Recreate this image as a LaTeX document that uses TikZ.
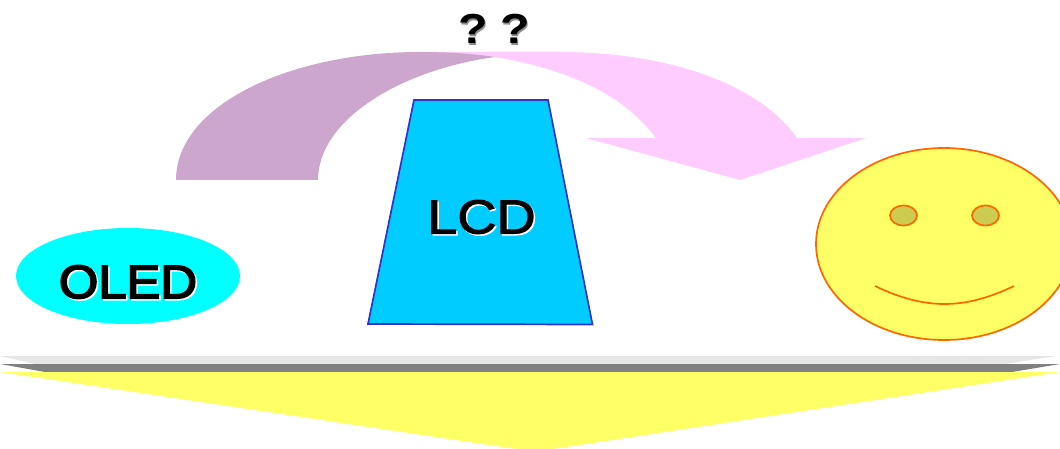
\documentclass[tikz,border=0pt]{standalone}
\usepackage{fontspec}
\usetikzlibrary{shapes.geometric}
\setmainfont{Liberation Sans}
\newfontfamily\oledfont[FakeBold=3.5]{Liberation Sans}
\newfontfamily\lcdfont[FakeBold=2]{Liberation Sans}
\definecolor{cPurple}{HTML}{CCA6CC}
\definecolor{cPink}{HTML}{FFCCFF}
\definecolor{cCyan}{HTML}{00FFFF}
\definecolor{cSky}{HTML}{00CCFF}
\definecolor{cEdge}{HTML}{3333CC}
\definecolor{cYellow}{HTML}{FFFF66}
\definecolor{cOrange}{HTML}{FF6600}
\definecolor{cEye}{HTML}{CCCC52}
\definecolor{cBarLight}{HTML}{E6E6E6}
\definecolor{cBarDark}{HTML}{808080}
\tikzset{
  facepart/.style={draw=cOrange,line width=1.7pt},
  lbl/.style={inner sep=0pt,font=\fontsize{47}{47}\selectfont,xscale=1.08},
  lbllcd/.style={inner sep=0pt,font=\fontsize{48}{48}\selectfont,xscale=1.13},
  qmark/.style={inner sep=0pt,font=\fontsize{42}{42}\selectfont\bfseries,xscale=1.15},
}
\begin{document}
\begin{tikzpicture}[x=1pt,y=-1pt]
\useasboundingbox (0,0) rectangle (1060,449);
\clip (0,0) rectangle (1060,449);
% bars
\fill[cBarLight] (0,356) -- (1056,356) -- (1005,364) -- (35,364) -- cycle;
\fill[cBarDark] (0,364) -- (1060,364) -- (1012,372) -- (45,372) -- cycle;
\fill[cYellow] (0,372) -- (1060,372) -- (553,449) -- (516,449) -- cycle;
% bent arrow
\fill[cPink] (400,52) -- (560,52) .. controls (670,52) and (760,85) .. (797,138)
  -- (866,138) -- (740,180) -- (586,138) -- (656,138)
  .. controls (620,90) and (560,68) .. (495,57) -- cycle;
\fill[cPurple] (176,180) .. controls (176,105) and (290,52) .. (420,52)
  .. controls (450,52) and (475,54) .. (495,57)
  .. controls (400,70) and (318,120) .. (318,180) -- cycle;
% OLED
\node[ellipse,fill=cCyan,minimum width=224pt,minimum height=96pt,inner sep=0pt] (oled) at (128,276) {};
\node[lbl,white] (oledshadow) at (129.5,283.5) {\oledfont OLED};
\node[lbl] (oledtext) at (128,282) {\oledfont OLED};
% LCD
\filldraw[fill=cSky,draw=cEdge,line width=1.7pt] (414,100) -- (548,100) -- (592.5,324.5) -- (368,324) -- cycle;
\node[lbllcd,white] (lcdshadow) at (483,218.5) {\lcdfont LCD};
\node[lbllcd] (lcdtext) at (481.5,217) {\lcdfont LCD};
% smiley
\node[ellipse,fill=cYellow,facepart,minimum width=256pt,minimum height=192pt,inner sep=0pt] (face) at (944,244) {};
\node[ellipse,fill=cEye,facepart,minimum width=27pt,minimum height=20pt,inner sep=0pt] (eyeL) at (903.5,215.5) {};
\node[ellipse,fill=cEye,facepart,minimum width=27pt,minimum height=20pt,inner sep=0pt] (eyeR) at (985.5,215.5) {};
\draw[facepart] (875,286) .. controls (925,310) and (964,310) .. (1014,286);
% question marks
\node[qmark,text=black!45] (q1s) at (474.5,30.5) {?};
\node[qmark,text=black!45] (q2s) at (516.5,30.5) {?};
\node[qmark] (q1) at (473,29) {?};
\node[qmark] (q2) at (515,29) {?};
\end{tikzpicture}
\end{document}
